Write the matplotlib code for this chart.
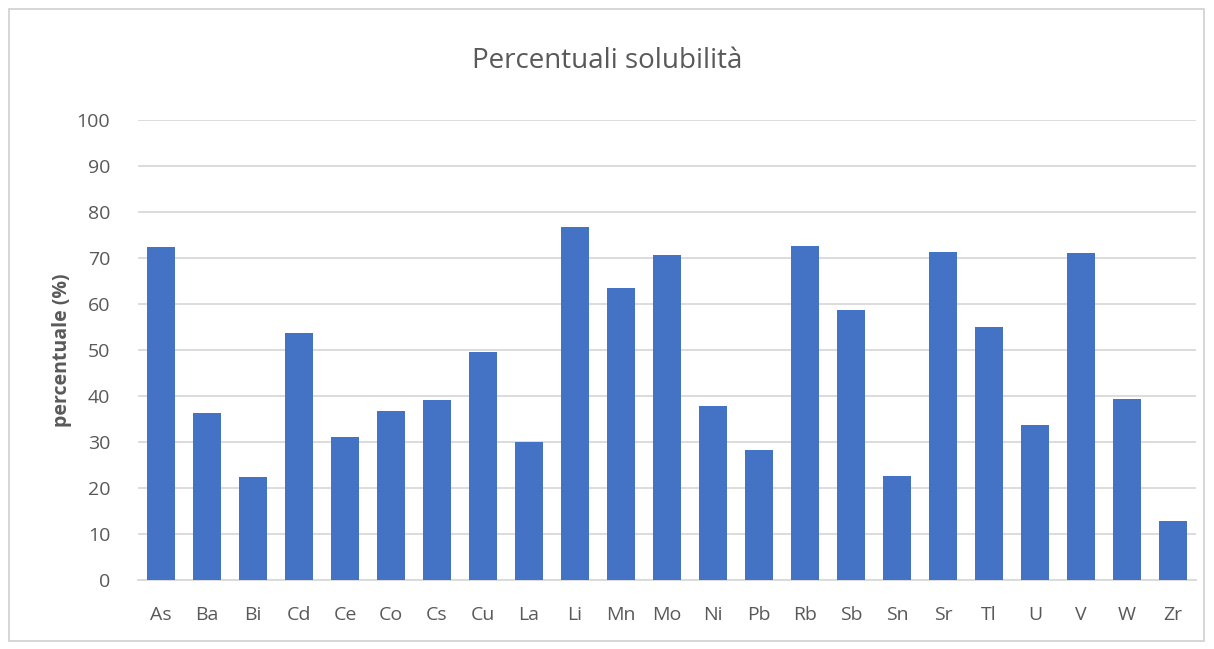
import matplotlib
matplotlib.use("Agg")
import matplotlib.pyplot as plt
from matplotlib.patches import Rectangle

# ===== DATI =====

elementi = ["As", "Ba", "Bi", "Cd", "Ce", "Co", "Cs", "Cu", "La", "Li", "Mn", "Mo",
            "Ni", "Pb", "Rb", "Sb", "Sn", "Sr", "Tl", "U", "V", "W", "Zr"]
percentuali = [72.3, 36.3, 22.4, 53.7, 31.1, 36.7, 39.1, 49.6, 30.1, 76.8, 63.5, 70.7,
               37.8, 28.3, 72.5, 58.6, 22.7, 71.3, 54.9, 33.6, 71.0, 39.4, 12.9]
y_ticks = list(range(0, 101, 10))

# ===== FIGURA =====

plt.rcParams['font.family'] = ['Open Sans', 'DejaVu Sans']

W, H = 1214, 649
fig = plt.figure(figsize=(W / 100, H / 100), dpi=100)

# cornice esterna
fig.patches.append(Rectangle((9 / W, 1 - 641 / H), 1195 / W, 632 / H,
                             transform=fig.transFigure, fill=False,
                             edgecolor="#d0d0d0", linewidth=1.2))

ax = fig.add_axes([138 / W, 1 - 580 / H, 1058 / W, 460 / H])

x = range(len(elementi))
ax.bar(x, percentuali, width=0.61, color="#4472c4", zorder=3)

ax.set_xlim(-0.5, len(elementi) - 0.5)
ax.set_ylim(0, 100)
ax.set_yticks(y_ticks)
ax.set_xticks(list(x))
ax.set_xticklabels(elementi)

ax.grid(axis="y", color="#d9d9d9", linewidth=1.3, zorder=0)
for s in ["top", "right", "left"]:
    ax.spines[s].set_visible(False)
ax.spines["bottom"].set_color("#d9d9d9")
ax.spines["bottom"].set_linewidth(1.3)

ax.tick_params(axis="both", length=0, colors="#595959", labelsize=14)
ax.tick_params(axis="y", pad=20)
ax.tick_params(axis="x", pad=19)

ax.set_ylabel("percentuale (%)", fontsize=14, fontweight="bold",
              color="#595959", labelpad=3)

fig.text(0.5, 1 - 61 / H, "Percentuali solubilità", ha="center", va="center",
         fontsize=20, color="#595959")

fig.savefig("out.png", dpi=100, facecolor="white")
